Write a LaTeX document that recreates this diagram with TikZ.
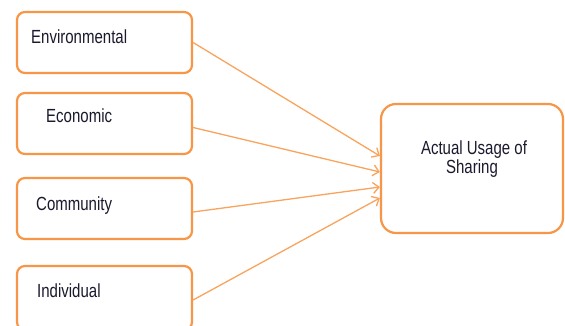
\documentclass[tikz,border=0pt]{standalone}
\usepackage{fontspec}
\setmainfont{Liberation Sans}
\usetikzlibrary{arrows.meta}
\definecolor{boxorange}{HTML}{F79646}
\definecolor{lineorange}{HTML}{F8A45E}
\definecolor{txt}{HTML}{1A1A2E}
\newcommand{\sq}[1]{\scalebox{0.79}[1]{#1}}
\tikzset{
  x=1pt, y=-1pt,
  factor/.style={draw=boxorange, line width=2.2pt, rounded corners=8pt, fill=white},
  outcome/.style={draw=boxorange, line width=2.2pt, rounded corners=15pt, fill=white},
  lbl/.style={inner sep=0pt, anchor=base west, text=txt, font=\fontsize{19}{20}\selectfont},
  clbl/.style={inner sep=0pt, anchor=base, text=txt, font=\fontsize{19}{20}\selectfont},
  link/.style={draw=lineorange, line width=1.3pt, -{Straight Barb[length=6pt,width=11pt,line width=1.3pt]}}
}
\begin{document}
\begin{tikzpicture}
\useasboundingbox (0,0) rectangle (565,326);
% factor boxes
\node[factor, minimum width=175pt, minimum height=61pt] (b1) at (104.5,42.5) {};
\node[factor, minimum width=175pt, minimum height=61pt] (b2) at (104.5,123.5) {};
\node[factor, minimum width=175pt, minimum height=61pt] (b3) at (104.5,208.5) {};
\node[factor, minimum width=175pt, minimum height=64pt] (b4) at (104.5,298) {};
% outcome box
\node[outcome, minimum width=182pt, minimum height=129pt] (r) at (472,168.5) {};
% labels
\node[lbl] (t1) at (31,44) {\sq{Environmental}};
\node[lbl] (t2) at (46,123) {\sq{Economic}};
\node[lbl] (t3) at (36,210) {\sq{Community}};
\node[lbl] (t4) at (37,297) {\sq{Individual}};
\node[clbl] (t5) at (474,155) {\sq{Actual Usage of}};
\node[clbl] (t6) at (472,173) {\sq{Sharing}};
% connectors
\draw[link] (b1.east) -- ([yshift=12.5pt]r.west);
\draw[link] ([yshift=-4pt]b2.east) -- ([yshift=-3.5pt]r.west);
\draw[link] ([yshift=-3.5pt]b3.east) -- ([yshift=-18.5pt]r.west);
\draw[link] ([yshift=-2pt]b4.east) -- ([yshift=-29.5pt]r.west);
\end{tikzpicture}
\end{document}
